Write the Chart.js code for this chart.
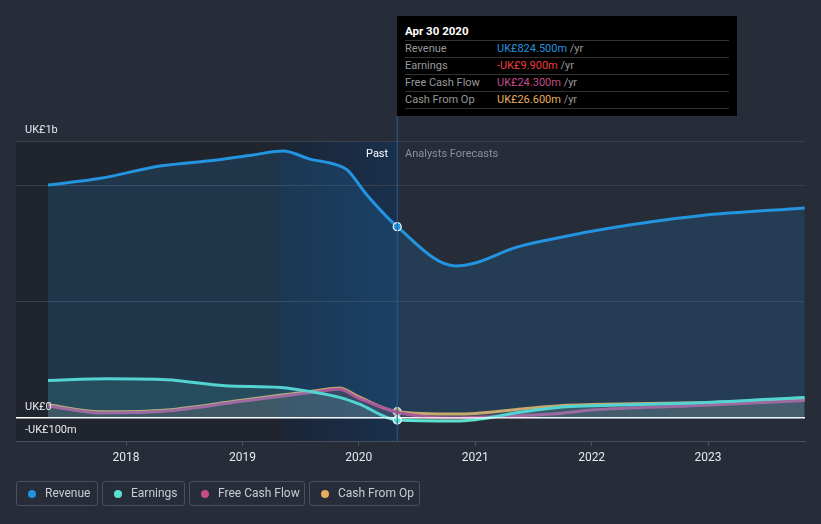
<!DOCTYPE html>
<html><head><meta charset="utf-8">
<script src="https://cdn.jsdelivr.net/npm/chart.js@4"></script>
<style>
html,body{margin:0;padding:0;background:#262c38;font-family:Roboto,"Noto Sans",sans-serif;}
#wrap{position:relative;width:821px;height:524px;overflow:hidden;}
canvas{position:absolute;left:0;top:0;}
#tip{position:absolute;left:397px;top:16px;width:340px;height:100px;background:#000;box-sizing:border-box;padding:7px 8px 0 8px;font-size:11px;}
#tip .h{color:#fff;font-weight:bold;font-size:11.5px;height:17px;line-height:17px;border-bottom:1px solid #333;}
#tip .r{height:16px;line-height:16px;border-bottom:1px solid #333;color:#999;position:relative;}
#tip .r span.v{position:absolute;left:92px;}
#tip .r span.u{color:#999;}
.lg{position:absolute;top:481px;height:25px;border:1px solid #4a505c;border-radius:3px;box-sizing:border-box;color:#c9ccd2;font-size:12px;line-height:23px;}
.lg i{position:absolute;left:11px;top:8px;width:8px;height:8px;border-radius:50%;}
.lg span{position:absolute;left:28px;}
.lbl{position:absolute;font-size:11px;}
</style></head>
<body><div id="wrap">
<canvas id="c" width="821" height="524"></canvas>
<div class="lbl" style="left:366px;top:147px;color:#fff;">Past</div>
<div class="lbl" style="left:405px;top:147px;color:#8b909a;">Analysts Forecasts</div>
<div id="tip">
 <div class="h">Apr 30 2020</div>
 <div class="r">Revenue<span class="v"><b style="font-weight:normal;color:#2394df">UK£824.500m</b> <span class="u">/yr</span></span></div>
 <div class="r">Earnings<span class="v"><b style="font-weight:normal;color:#ee3d3d">-UK£9.900m</b> <span class="u">/yr</span></span></div>
 <div class="r">Free Cash Flow<span class="v"><b style="font-weight:normal;color:#c44d8a">UK£24.300m</b> <span class="u">/yr</span></span></div>
 <div class="r">Cash From Op<span class="v"><b style="font-weight:normal;color:#e8ae5a">UK£26.600m</b> <span class="u">/yr</span></span></div>
</div>
<div class="lg" style="left:16px;width:82px;"><i style="background:#2394df"></i><span>Revenue</span></div>
<div class="lg" style="left:102px;width:83px;"><i style="background:#5ee0d0"></i><span>Earnings</span></div>
<div class="lg" style="left:189px;width:116px;"><i style="background:#c44d8a"></i><span>Free Cash Flow</span></div>
<div class="lg" style="left:309px;width:111px;"><i style="background:#e8ae5a"></i><span>Cash From Op</span></div>
</div>
<script>
// ---- data (values in UK£ millions, x in fractional years) ----
const revenueX = [2017.33,2017.78,2018.29,2018.78,2019.09,2019.35,2019.58,2019.81,2019.90,2020.07,2020.33,2020.83,2021.0,2021.35,2021.75,2022.0,2022.5,2022.93,2023.83];
const revenueY = [1004,1033,1086,1112,1134,1151,1116,1091,1069,961,824.5,655,668,735,780,805,845,872,905];

const earningsX = [2017.33,2017.85,2018.35,2018.85,2019.33,2019.6,2019.85,2020.0,2020.33,2020.83,2021.0,2021.4,2021.75,2022.0,2022.93,2023.83];
const earningsY = [161,168,164,138,131,112,86,60,-9.9,-14,-8,25,47,52,65,88];

const fcfX = [2017.33,2017.78,2018.35,2018.98,2019.4,2019.65,2019.83,2020.0,2020.33,2020.83,2021.0,2021.75,2022.0,2022.93,2023.83];
const fcfY = [51,21,29,70,97,113,123,84,24.3,-1,2,20,34,53,75];

const cfoX = [2017.33,2017.78,2018.35,2018.98,2019.4,2019.65,2019.83,2020.0,2020.33,2020.83,2021.0,2021.4,2021.75,2022.0,2022.93,2023.83];
const cfoY = [56,26,34,75,102,118,129,90,26.6,16,19,38,53,57,65,78];

const yearTicks = [2018,2019,2020,2021,2022,2023];
const yTickValues = [-100,0,500,1000,1194];
const yTickLabels = [[1194,'UK£1b'],[0,'UK£0'],[-100,'-UK£100m']];
const pastStart = 2017.055, highlightStart = 2019.33, nowX = 2020.33;

const pts = (xs, ys) => xs.map((x,i)=>({x, y: ys[i]}));
const dotR = c => (c.raw && c.raw.x === nowX) ? 4 : 0;

const bgPlugin = {
  id:'bg',
  beforeDraw(chart){
    const {ctx, chartArea:a, scales:{x}} = chart;
    const x0 = x.getPixelForValue(pastStart), x1 = x.getPixelForValue(highlightStart), x2 = x.getPixelForValue(nowX);
    ctx.save();
    ctx.fillStyle = '#20242d';
    ctx.fillRect(x0, a.top, x1-x0, a.bottom-a.top);
    const g = ctx.createLinearGradient(x1,0,x2,0);
    g.addColorStop(0,'#1b2536'); g.addColorStop(1,'#19304d');
    ctx.fillStyle = g;
    ctx.fillRect(x1, a.top, x2-x1, a.bottom-a.top);
    ctx.restore();
  },
  afterDatasetsDraw(chart){
    const {ctx, chartArea:a, scales:{x,y}} = chart;
    ctx.save();
    const z = y.getPixelForValue(0);
    ctx.strokeStyle = '#ffffff'; ctx.lineWidth = 1.2;
    ctx.beginPath(); ctx.moveTo(a.left, z); ctx.lineTo(a.right, z); ctx.stroke();
    const xn = x.getPixelForValue(nowX);
    ctx.strokeStyle = '#2a5d96'; ctx.lineWidth = 1;
    ctx.beginPath(); ctx.moveTo(xn, 116); ctx.lineTo(xn, a.bottom); ctx.stroke();
    ctx.fillStyle = '#e6e8ec'; ctx.font = '11px Roboto, sans-serif'; ctx.textBaseline = 'bottom';
    yTickLabels.forEach(([v,t])=>{ ctx.fillText(t, 25, y.getPixelForValue(v) - 5); });
    ctx.restore();
  }
};

const mk = (label, data, color, fill, withDot) => ({
  label, data, borderColor: color, backgroundColor: fill, fill: 'origin',
  borderWidth: 3, cubicInterpolationMode: 'monotone',
  pointRadius: withDot ? dotR : 0, pointHoverRadius: 0, pointBackgroundColor: color,
  pointBorderColor: '#ffffff', pointBorderWidth: 1.2
});

new Chart(document.getElementById('c'), {
  type: 'line',
  data: { datasets: [
    mk('Revenue', pts(revenueX, revenueY), '#2394df', 'rgba(35,148,223,0.17)', true),
    mk('Earnings', pts(earningsX, earningsY), '#5ee0d0', 'rgba(94,224,208,0.14)', true),
    mk('Free Cash Flow', pts(fcfX, fcfY), '#c44d8a', 'rgba(196,77,138,0.10)', false),
    mk('Cash From Op', pts(cfoX, cfoY), '#e8ae5a', 'rgba(232,174,90,0.10)', true)
  ]},
  options: {
    responsive: false, animation: false, devicePixelRatio: 1,
    layout: { padding: { left: 16, right: 16, top: 141, bottom: 53 } },
    plugins: { legend: { display: false }, tooltip: { enabled: false } },
    scales: {
      x: { type: 'linear', min: pastStart, max: 2023.833,
        afterBuildTicks: s => { s.ticks = yearTicks.map(v => ({value: v})); },
        afterFit: s => { s.height = 30; },
        ticks: { color: '#e6e8ec', font: { family: 'Roboto', size: 12 }, padding: 5, callback: v => String(v) },
        grid: { drawOnChartArea: false, drawTicks: true, tickLength: 5, color: '#4a4f5a' },
        border: { display: true, color: '#4a4f5a' } },
      y: { type: 'linear', min: -100, max: 1194,
        afterBuildTicks: s => { s.ticks = yTickValues.map(v => ({value: v})); },
        afterFit: s => { s.width = 0; },
        ticks: { display: false },
        grid: { drawTicks: false, color: c => c.tick && c.tick.value === 0 ? '#ffffff' : '#3a404c' },
        border: { display: false } }
    }
  },
  plugins: [bgPlugin]
});
</script>
</body></html>
